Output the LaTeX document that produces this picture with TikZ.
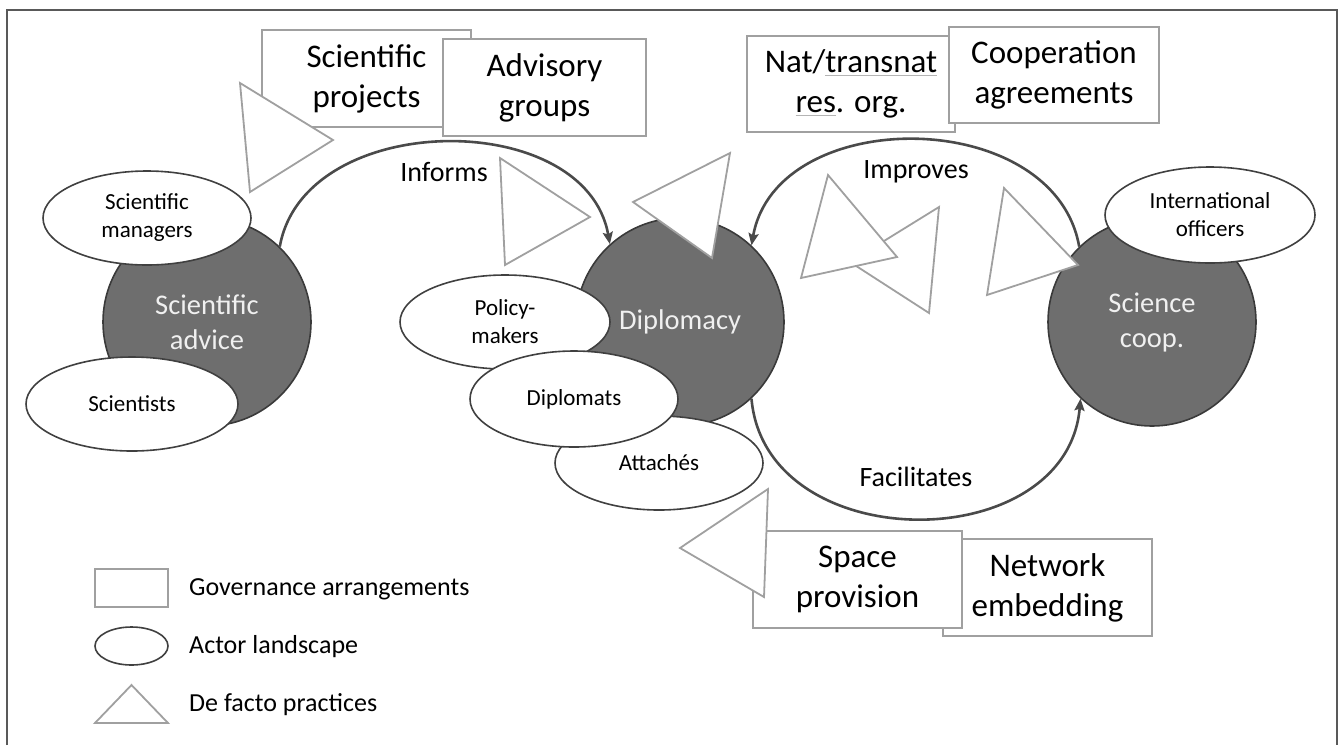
\documentclass[tikz,border=0pt]{standalone}
\usepackage{fontspec}
\setmainfont{Carlito}
\usetikzlibrary{shapes.geometric,arrows.meta}
\definecolor{hubfill}{HTML}{6E6E6E}
\definecolor{hubline}{HTML}{3A3A3A}
\definecolor{govline}{HTML}{A0A0A0}
\definecolor{actline}{HTML}{404040}
\definecolor{flowline}{HTML}{4A4A4A}
\definecolor{spellgray}{HTML}{B4B4B4}
\newcommand\spellul[1]{\setbox0\hbox{#1}\rlap{\textcolor{spellgray}{\rule[-3.5pt]{\wd0}{1.3pt}}}#1}
\tikzset{
  hub/.style={circle,draw=hubline,fill=hubfill,line width=1.6pt,minimum size=208pt,inner sep=0pt,
              text=white!94!black,align=center,font=\fontsize{28.5}{35}\selectfont},
  actor/.style={ellipse,draw=actline,fill=white,line width=1.6pt,minimum width=208pt,minimum height=94pt,
              inner sep=0pt,align=center,font=\fontsize{23}{28}\selectfont},
  gov/.style={rectangle,draw=govline,fill=white,line width=1.8pt,minimum width=209pt,minimum height=97pt,
              inner sep=0pt,align=center,font=\fontsize{33}{40}\selectfont},
  practice/.style={draw=govline,fill=white,line width=1.8pt,line join=miter},
  flow/.style={draw=flowline,line width=2.6pt,-{Stealth[length=12pt,width=10pt,inset=2pt]}},
  flowlabel/.style={font=\fontsize{28}{34}\selectfont},
  legend/.style={anchor=west,inner sep=0pt,font=\fontsize{26}{31}\selectfont}
}
\begin{document}
\begin{tikzpicture}[x=1pt,y=-1pt]
\useasboundingbox (0,0) rectangle (1343,745);
%frame
\draw[line width=2.2pt,draw=black!65] (7,745) -- (7,10) -- (1337,10) -- (1337,745);
%governance arrangements
\node[gov] (sproj) at (366.5,78.5) {Scientific\\projects};
\node[gov,minimum width=203pt] (advgr) at (544.5,87.5) {Advisory\\groups};
\node[gov,minimum width=208pt,minimum height=96pt] (resorg) at (851,84) {Nat/\spellul{transnat}\\\spellul{res}. org.};
\node[gov,minimum width=210pt,minimum height=96pt] (coag) at (1054,75) {Cooperation\\agreements};
\node[gov] (netw) at (1047.5,587.5) {Network\\embedding};
\node[gov] (space) at (857.5,579.5) {Space\\provision};
%hubs
\node[hub] (advice) at (207,322) {Scientific\\advice};
\node[hub] (dipl) at (680,322) {Diplomacy};
\node[hub] (coop) at (1152,322) {Science\\coop.};
%actor landscape
\node[actor] (mgrs) at (147,218) {Scientific\\managers};
\node[actor,minimum width=212pt] (scis) at (132,404) {Scientists};
\node[actor] (attc) at (659,463) {Attachés};
\node[actor,minimum width=210pt] (plcy) at (505,322) {Policy-\\makers};
\node[actor,minimum height=96pt] (dplm) at (574,399) {Diplomats};
\node[actor,minimum width=210pt,minimum height=96pt] (intl) at (1210,215) {International\\officers};
%de facto practices
\draw[practice] (240,83) -- (333,140) -- (250,192) -- cycle;
\draw[practice] (500,158) -- (590,217) -- (505,265) -- cycle;
\draw[practice] (633,202) -- (730,153) -- (712,258) -- cycle;
\draw[practice] (939,207) -- (929,313) -- (850,262) -- cycle;
\draw[practice] (828,175) -- (897,257) -- (801,278) -- cycle;
\draw[practice] (1004,188) -- (1078,265) -- (987,295) -- cycle;
\draw[practice] (680,548) -- (768,489) -- (764,597) -- cycle;
%links
\draw[flow] (advice.46) to[out=80,in=100,looseness=1.08] (dipl.132);
\draw[flow] (coop.134) to[out=100,in=80,looseness=1.12] (dipl.47);
\draw[flow] (dipl.-47) to[out=-85,in=-95,looseness=1.25] (coop.-133);
\node[flowlabel] (informs) at (444,172) {Informs};
\node[flowlabel] (improves) at (916,172) {Improves};
\node[flowlabel] (facil) at (916,477) {Facilitates};
%legend
\node[gov,minimum width=73pt,minimum height=38pt] (keygov) at (131.5,588) {};
\node[actor,minimum width=73pt,minimum height=38pt] (keyact) at (131.5,646) {};
\draw[practice] (95,723) -- (168,723) -- (131.5,685) -- cycle;
\node[legend] (keygovtxt) at (189,589) {Governance arrangements};
\node[legend] (keyacttxt) at (189,647) {Actor landscape};
\node[legend] (keyprctxt) at (189,705) {De facto practices};
\end{tikzpicture}
\end{document}
